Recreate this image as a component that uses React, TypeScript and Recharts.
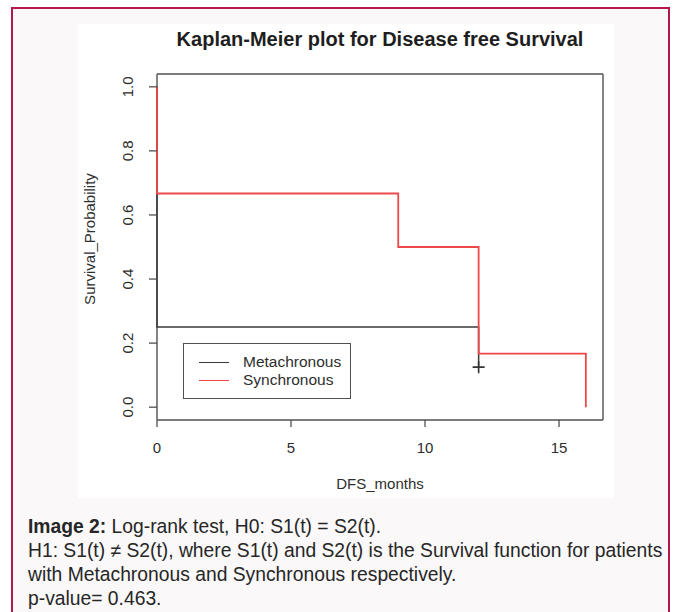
import {
  ComposedChart, Line, Scatter, XAxis, YAxis, Legend, CartesianGrid
} from "recharts";

const metaTimes = [0, 0, 12];
const metaSurv = [1.0, 0.25, 0.125];
const synTimes = [0, 0, 9, 12, 16];
const synSurv = [1.0, 0.667, 0.5, 0.167, 0.0];
const censorTimes = [12];
const censorSurv = [0.125];

const xTicks = [0, 5, 10, 15];
const yTicks = [0, 0.2, 0.4, 0.6, 0.8, 1.0];
const xDomain = [0, 16.64];
const yDomain = [-0.04, 1.04];

const seriesNames = ["Metachronous", "Synchronous"];
const seriesColors = ["#3a3a3a", "#ee4848"];

const FONT = "'Liberation Sans', Arial, Helvetica, sans-serif";
const INK = "#2e2e2e";
const BOX = "#505050";

const metaData = metaTimes.map((t, i) => ({ t, s: metaSurv[i] }));
const synData = synTimes.map((t, i) => ({ t, s: synSurv[i] }));
const censorData = censorTimes.map((t, i) => ({ t, s: censorSurv[i] }));

function YTick(props: any) {
  const { x, y, payload } = props;
  const cx = x - 19;
  return (
    <text
      x={cx}
      y={y}
      dy="0.35em"
      textAnchor="middle"
      transform={`rotate(-90, ${cx}, ${y})`}
      fill={INK}
      fontSize={15}
      fontFamily={FONT}
    >
      {Number(payload.value).toFixed(1)}
    </text>
  );
}

function Cross(props: any) {
  const { cx, cy } = props;
  return (
    <path
      d={`M${cx - 6},${cy}h12M${cx},${cy - 6}v12`}
      stroke="#333"
      strokeWidth={1.6}
      fill="none"
    />
  );
}

function LegendBox() {
  return (
    <div
      style={{
        width: 168,
        height: 56,
        border: `1.5px solid ${BOX}`,
        background: "#fff",
        boxSizing: "border-box",
        padding: "9px 0 0 15px",
        fontFamily: FONT,
        fontSize: 15.5,
        color: INK,
        lineHeight: "18px",
      }}
    >
      {seriesNames.map((name, i) => (
        <div key={name} style={{ display: "flex", alignItems: "center" }}>
          <span
            style={{
              display: "inline-block",
              width: 30,
              height: 0,
              borderTop: `1.5px solid ${seriesColors[i]}`,
              marginRight: 14,
            }}
          />
          {name}
        </div>
      ))}
    </div>
  );
}

// box around the plot region, drawn by the grid so it sits under the curves
const boxRows = ({ offset }: any) => [offset.top, offset.top + offset.height];
const boxCols = ({ offset }: any) => [offset.left, offset.left + offset.width];

export default function App() {
  return (
    <div style={{ position: "relative", width: 681, height: 612, background: "#fff", overflow: "hidden" }}>
      <style>{`body{margin:0}`}</style>
      <div
        style={{
          position: "absolute",
          left: 11,
          top: 7,
          width: 659,
          height: 640,
          border: "2px solid #b5174b",
          boxSizing: "border-box",
          background: "#faf8f9",
        }}
      />
      <div style={{ position: "absolute", left: 78, top: 24, width: 536, height: 474, background: "#fff" }} />

      <div
        style={{
          position: "absolute",
          left: 80,
          width: 600,
          top: 28,
          textAlign: "center",
          fontFamily: FONT,
          fontWeight: "bold",
          fontSize: 20,
          color: "#1e1e1e",
        }}
      >
        Kaplan-Meier plot for Disease free Survival
      </div>

      <div style={{ position: "absolute", left: 0, top: 0 }}>
        <ComposedChart
          width={681}
          height={510}
          margin={{ top: 74, right: 78, left: 87, bottom: 30 }}
        >
          <CartesianGrid
            stroke={BOX}
            strokeWidth={1.4}
            horizontalCoordinatesGenerator={boxRows}
            verticalCoordinatesGenerator={boxCols}
          />
          <XAxis
            type="number"
            dataKey="t"
            domain={xDomain}
            ticks={xTicks}
            axisLine={false}
            tickLine={{ stroke: BOX, strokeWidth: 1.3 }}
            tickSize={7}
            tickMargin={15}
            height={60}
            tick={{ fill: INK, fontSize: 15, fontFamily: FONT }}
            label={{
              value: "DFS_months",
              position: "bottom",
              offset: -2,
              fill: INK,
              fontSize: 15,
              fontFamily: FONT,
            }}
          />
          <YAxis
            type="number"
            domain={yDomain}
            ticks={yTicks}
            axisLine={false}
            tickLine={{ stroke: BOX, strokeWidth: 1.3 }}
            tickSize={8}
            width={70}
            tick={<YTick />}
            label={{
              value: "Survival_Probability",
              angle: -90,
              position: "insideLeft",
              offset: 3,
              dy: -8,
              style: { textAnchor: "middle" },
              fill: INK,
              fontSize: 15,
              fontFamily: FONT,
            }}
          />
          <Line
            data={metaData}
            dataKey="s"
            name={seriesNames[0]}
            type="stepAfter"
            stroke={seriesColors[0]}
            strokeWidth={1.5}
            dot={false}
            activeDot={false}
            isAnimationActive={false}
          />
          <Line
            data={synData}
            dataKey="s"
            name={seriesNames[1]}
            type="stepAfter"
            stroke={seriesColors[1]}
            strokeWidth={1.8}
            dot={false}
            activeDot={false}
            isAnimationActive={false}
          />
          <Scatter
            data={censorData}
            dataKey="s"
            shape={<Cross />}
            isAnimationActive={false}
          />
          <Legend
            layout="vertical"
            align="center"
            verticalAlign="middle"
            wrapperStyle={{ left: 183, top: 343, width: 168, height: 56 }}
            content={() => <LegendBox />}
          />
        </ComposedChart>
      </div>

      <div
        style={{
          position: "absolute",
          left: 28,
          top: 515,
          width: 650,
          fontFamily: FONT,
          fontSize: 19.3,
          lineHeight: "24px",
          color: "#262626",
          whiteSpace: "nowrap",
        }}
      >
        <div>
          <b>Image 2:</b> Log-rank test, H0: S1(t) = S2(t).
        </div>
        <div>H1: S1(t) ≠ S2(t), where S1(t) and S2(t) is the Survival function for patients</div>
        <div>with Metachronous and Synchronous respectively.</div>
        <div>p-value= 0.463.</div>
      </div>
    </div>
  );
}
